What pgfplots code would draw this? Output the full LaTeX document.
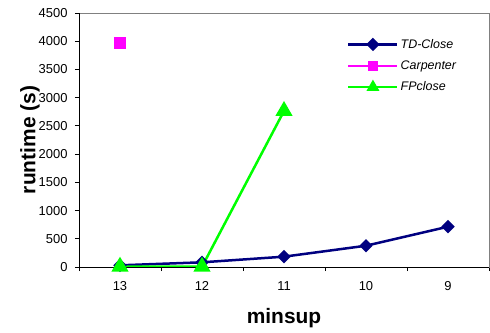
\documentclass[border=0pt]{standalone}
\usepackage{pgfplots}
\pgfplotsset{compat=1.18}
\usetikzlibrary{calc}
\usepackage{fontspec}
\setmainfont{Liberation Sans}
\definecolor{tdnavy}{RGB}{0,0,128}
\definecolor{carp}{RGB}{255,0,255}
\definecolor{fpg}{RGB}{0,255,0}
\begin{document}
\begin{tikzpicture}
\begin{axis}[
  name=ax,
  scale only axis,
  width=410bp, height=254bp,
  xmin=-0.5, xmax=4.5,
  ymin=0, ymax=4500,
  xtick={0,1,2,3,4},
  xticklabels={13,12,11,10,9},
  minor xtick={-0.5,0.5,1.5,2.5,3.5,4.5},
  ytick={0,500,...,4500},
  tick align=outside,
  xtick pos=bottom, ytick pos=left,
  major x tick style={draw=none},
  minor tick length=4bp,
  major tick length=4bp,
  tick style={black, line width=0.8bp},
  axis line style={gray, line width=0.8bp},
  /pgf/number format/assume math mode=true,
  /pgf/number format/1000 sep={},
  ticklabel style={font=\fontsize{13}{15}\selectfont},
  xticklabel style={yshift=-7bp},
  yticklabel style={xshift=-4bp},
  xlabel={\textbf{minsup}},
  ylabel={\textbf{runtime (s)}},
  label style={font=\fontsize{21}{24}\selectfont},
  xlabel style={at={(axis description cs:0.5,0)}, anchor=center, yshift=-51bp},
  ylabel style={at={(axis description cs:0,0.5)}, anchor=center, yshift=49bp},
  clip=false,
  legend style={draw=none, fill=none, at={(axis description cs:0,1)}, anchor=north west,
    xshift=268bp, yshift=-24bp, font=\fontsize{12.5}{14}\itshape, row sep=7bp,
    inner sep=0pt},
  legend cell align=left,
  legend image code/.code={\draw[line width=2.5bp, mark repeat=2,mark phase=2] plot coordinates {(0bp,0bp) (24.5bp,0bp) (49bp,0bp)};},
]
\addplot[tdnavy, line width=2.5bp, mark=square*, mark size=3.5bp, mark options={rotate=45, solid}]
  coordinates {(0,30) (1,83) (2,183) (3,377) (4,714)};
\addlegendentry{TD-Close}
\addplot[carp, line width=2.5bp, mark=square*, mark size=4.8bp,
  legend image code/.code={\draw[line width=2.5bp, mark size=4bp, mark repeat=2,mark phase=2] plot coordinates {(0bp,0bp) (24.5bp,0bp) (49bp,0bp)};}]
  coordinates {(0,3974)};
\addlegendentry{Carpenter}
\addplot[fpg, line width=2.5bp, mark=triangle*, mark size=7.5bp,
  legend image code/.code={\draw[line width=2.5bp, mark size=5bp, mark repeat=2,mark phase=2] plot coordinates {(0bp,0bp) (24.5bp,0bp) (49bp,0bp)};}]
  coordinates {(0,5) (1,5) (2,2764)};
\addlegendentry{FPclose}
\draw[black, line width=0.8bp] (rel axis cs:0,1) -- (rel axis cs:0,0) -- (rel axis cs:1,0);
\end{axis}
\path (ax.south west) ++(-79bp,-66bp) rectangle ($(ax.north east)+(1bp,13bp)$);
\end{tikzpicture}
\end{document}
